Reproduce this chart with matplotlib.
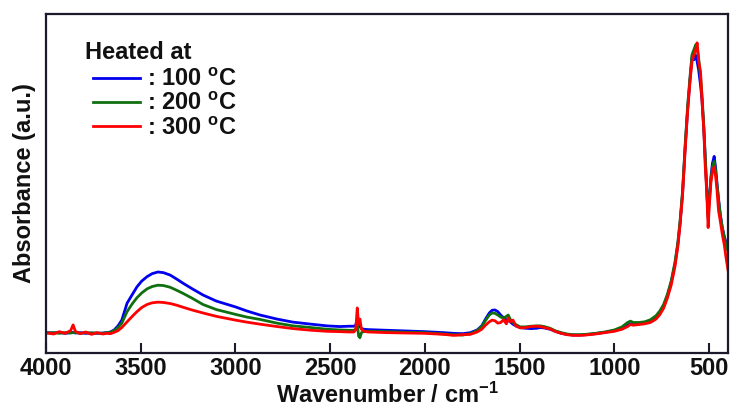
import matplotlib
matplotlib.use("Agg")
import matplotlib.pyplot as plt

plt.rcParams['font.family'] = ['Liberation Sans', 'DejaVu Sans']
plt.rcParams['font.weight'] = 'bold'
plt.rcParams['mathtext.fontset'] = 'custom'
plt.rcParams['mathtext.rm'] = 'Liberation Sans:bold'
plt.rcParams['mathtext.it'] = 'Liberation Sans:bold'
plt.rcParams['mathtext.bf'] = 'Liberation Sans:bold'

wavenumber = [
    4000, 3960, 3930, 3900, 3870, 3857, 3845, 3820, 3790, 3760,
    3730, 3700, 3680, 3660, 3640, 3620, 3600, 3572, 3545, 3520,
    3495, 3467, 3440, 3409, 3380, 3345, 3310, 3277, 3230, 3171,
    3100, 3000, 2940, 2870, 2780, 2696, 2600, 2516, 2450, 2400,
    2375, 2365, 2357, 2350, 2343, 2335, 2320, 2300, 2200, 2100,
    2000, 1900, 1850, 1800, 1760, 1724, 1700, 1680, 1660, 1645,
    1630, 1615, 1600, 1585, 1570, 1560, 1550, 1535, 1520, 1497,
    1470, 1440, 1410, 1392, 1370, 1339, 1310, 1280, 1250, 1218,
    1180, 1150, 1100, 1050, 1000, 960, 930, 915, 900, 870,
    840, 810, 780, 760, 740, 720, 700, 680, 665, 653,
    640, 626, 613, 600, 590, 580, 570, 563, 555, 545,
    537, 528, 521, 512, 505, 498, 490, 482, 473, 465,
    458, 450, 441, 430, 420, 410, 400]

abs_100C = [
    0.060, 0.059, 0.061, 0.058, 0.060, 0.061, 0.059, 0.060, 0.058, 0.059,
    0.058, 0.059, 0.060, 0.062, 0.068, 0.080, 0.097, 0.147, 0.172, 0.195,
    0.212, 0.225, 0.234, 0.239, 0.237, 0.230, 0.218, 0.206, 0.190, 0.171,
    0.153, 0.136, 0.124, 0.112, 0.100, 0.091, 0.085, 0.080, 0.078, 0.079,
    0.079, 0.082, 0.100, 0.090, 0.078, 0.072, 0.070, 0.069, 0.067, 0.065,
    0.063, 0.060, 0.058, 0.057, 0.060, 0.068, 0.080, 0.100, 0.118, 0.126,
    0.127, 0.122, 0.112, 0.104, 0.098, 0.096, 0.092, 0.085, 0.080, 0.075,
    0.073, 0.072, 0.073, 0.075, 0.074, 0.070, 0.064, 0.058, 0.055, 0.053,
    0.053, 0.054, 0.057, 0.061, 0.066, 0.074, 0.082, 0.086, 0.085, 0.086,
    0.088, 0.094, 0.105, 0.118, 0.138, 0.168, 0.208, 0.262, 0.320, 0.383,
    0.470, 0.608, 0.720, 0.810, 0.873, 0.865, 0.878, 0.860, 0.835, 0.790,
    0.745, 0.665, 0.585, 0.480, 0.410, 0.460, 0.520, 0.560, 0.580, 0.545,
    0.500, 0.455, 0.410, 0.370, 0.345, 0.325, 0.313]

abs_200C = [
    0.059, 0.060, 0.058, 0.060, 0.059, 0.060, 0.061, 0.058, 0.060, 0.059,
    0.059, 0.058, 0.060, 0.061, 0.066, 0.075, 0.088, 0.122, 0.145, 0.163,
    0.177, 0.189, 0.196, 0.200, 0.199, 0.194, 0.185, 0.176, 0.162, 0.143,
    0.128, 0.114, 0.106, 0.099, 0.088, 0.080, 0.075, 0.070, 0.068, 0.067,
    0.067, 0.070, 0.090, 0.050, 0.045, 0.060, 0.064, 0.064, 0.063, 0.061,
    0.060, 0.056, 0.054, 0.053, 0.057, 0.066, 0.078, 0.096, 0.112, 0.118,
    0.117, 0.112, 0.106, 0.103, 0.108, 0.112, 0.100, 0.090, 0.084, 0.077,
    0.077, 0.079, 0.080, 0.080, 0.078, 0.073, 0.065, 0.060, 0.056, 0.054,
    0.054, 0.055, 0.058, 0.062, 0.068, 0.077, 0.090, 0.094, 0.090, 0.090,
    0.092, 0.098, 0.110, 0.124, 0.143, 0.173, 0.212, 0.268, 0.325, 0.390,
    0.478, 0.615, 0.730, 0.818, 0.880, 0.895, 0.910, 0.905, 0.870, 0.815,
    0.760, 0.672, 0.590, 0.482, 0.400, 0.455, 0.512, 0.548, 0.565, 0.535,
    0.495, 0.452, 0.408, 0.368, 0.342, 0.318, 0.300]

abs_300C = [
    0.060, 0.056, 0.063, 0.058, 0.066, 0.083, 0.064, 0.057, 0.062, 0.055,
    0.060, 0.056, 0.058, 0.057, 0.061, 0.066, 0.075, 0.092, 0.108, 0.122,
    0.134, 0.143, 0.148, 0.150, 0.149, 0.146, 0.141, 0.135, 0.127, 0.118,
    0.108, 0.097, 0.091, 0.085, 0.078, 0.072, 0.067, 0.064, 0.063, 0.062,
    0.062, 0.068, 0.133, 0.085, 0.100, 0.070, 0.064, 0.062, 0.060, 0.059,
    0.058, 0.055, 0.052, 0.054, 0.055, 0.062, 0.070, 0.082, 0.092, 0.097,
    0.095, 0.088, 0.090, 0.098, 0.086, 0.103, 0.092, 0.097, 0.080, 0.074,
    0.075, 0.078, 0.079, 0.078, 0.075, 0.071, 0.063, 0.058, 0.054, 0.052,
    0.052, 0.053, 0.056, 0.060, 0.064, 0.070, 0.078, 0.084, 0.082, 0.084,
    0.086, 0.090, 0.100, 0.113, 0.132, 0.162, 0.200, 0.255, 0.313, 0.378,
    0.465, 0.600, 0.715, 0.805, 0.860, 0.880, 0.895, 0.915, 0.860, 0.830,
    0.740, 0.660, 0.560, 0.470, 0.370, 0.440, 0.505, 0.535, 0.549, 0.520,
    0.480, 0.420, 0.390, 0.350, 0.320, 0.280, 0.245]

legend_title = 'Heated at'
series_labels = [': 100 $^{\\rm o}$C', ': 200 $^{\\rm o}$C', ': 300 $^{\\rm o}$C']
series_colors = ['#0000ee', '#107010', '#ff0000']
x_ticks = [4000, 3500, 3000, 2500, 2000, 1500, 1000, 500]
x_tick_labels = ['4000', '3500', '3000', '2500', '2000', '1500', '1000', '500']

fig = plt.figure(figsize=(7.33, 4.12), dpi=100)
ax = fig.add_axes([46/733, 59/412, 682/733, 339/412])

handles = []
for y, c, lab in zip([abs_100C, abs_200C, abs_300C], series_colors, series_labels):
    h, = ax.plot(wavenumber, y, color=c, lw=2.0, label=lab)
    handles.append(h)

ax.set_xlim(4000, 400)
ax.set_ylim(0, 1)
ax.set_yticks([])
ax.set_xticks(x_ticks)
ax.set_xticklabels(x_tick_labels)
ax.tick_params(axis='x', direction='in', length=7, width=1.5, labelsize=17, pad=3,
               colors='#1a1a2a', labelcolor='#111111')
for s in ax.spines.values():
    s.set_linewidth(1.6)
    s.set_color('#1a1a2a')

ax.set_xlabel('Wavenumber / cm$^{\\mathregular{-1}}$', fontsize=17, fontweight='bold',
              labelpad=2, color='#111111')
ax.set_ylabel('Absorbance (a.u.)', fontsize=17, fontweight='bold', labelpad=7, color='#111111')

ax.text(0.057, 0.885, legend_title, transform=ax.transAxes, fontsize=17,
        fontweight='bold', ha='left', va='center', color='#111111')
leg = ax.legend(handles=handles, loc='upper left',
                bbox_to_anchor=(0.069, 0.84), frameon=False, fontsize=17,
                handlelength=2.0, handletextpad=0.3, labelspacing=0.05,
                borderaxespad=0, borderpad=0)
for t in leg.get_texts():
    t.set_color('#111111')

fig.savefig('out.png', dpi=100)
